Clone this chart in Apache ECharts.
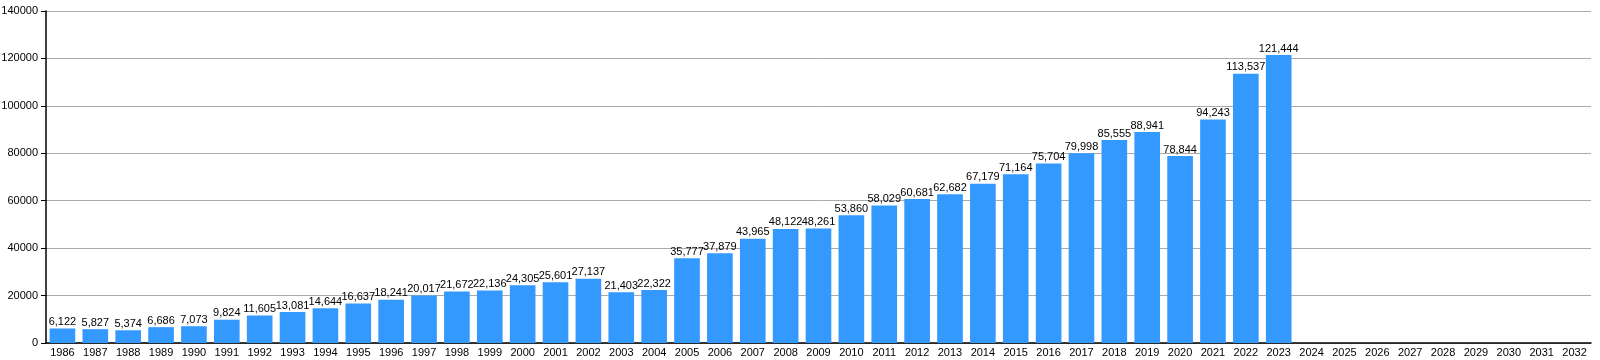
<!DOCTYPE html>
<html><head><meta charset="utf-8">
<script src="https://cdn.jsdelivr.net/npm/echarts@6/dist/echarts.min.js"></script>
<style>html,body{margin:0;padding:0;background:#fff}#c{width:1600px;height:360px}</style>
</head><body><div id="c"></div>
<script>
const years = ['1986','1987','1988','1989','1990','1991','1992','1993','1994','1995','1996','1997','1998','1999','2000','2001','2002','2003','2004','2005','2006','2007','2008','2009','2010','2011','2012','2013','2014','2015','2016','2017','2018','2019','2020','2021','2022','2023','2024','2025','2026','2027','2028','2029','2030','2031','2032'];
const values = [6122,5827,5374,6686,7073,9824,11605,13081,14644,16637,18241,20017,21672,22136,24305,25601,27137,21403,22322,35777,37879,43965,48122,48261,53860,58029,60681,62682,67179,71164,75704,79998,85555,88941,78844,94243,113537,121444,null,null,null,null,null,null,null,null,null];
const chart = echarts.init(document.getElementById('c'));
chart.setOption({
  animation:false,
  grid:{left:46,right:9,top:11,bottom:17,containLabel:false,outerBoundsMode:'none'},
  xAxis:{type:'category',data:years,
    axisLine:{lineStyle:{color:'#000',width:1.5}},
    axisTick:{show:false},
    axisLabel:{color:'#000',fontFamily:'Liberation Sans',fontSize:11,margin:4,interval:0}},
  yAxis:{type:'value',min:0,max:140000,interval:20000,
    axisLine:{show:true,lineStyle:{color:'#000',width:1.5}},
    axisTick:{show:true,length:5,lineStyle:{color:'#000'}},
    axisLabel:{color:'#000',fontFamily:'Liberation Sans',fontSize:11,margin:8,formatter:v=>String(v)},
    splitLine:{lineStyle:{color:'#aaaaaa',width:1}}},
  series:[{type:'bar',data:values,barWidth:'78%',
    itemStyle:{color:'#3399ff'},
    label:{show:true,position:'top',distance:1,color:'#000',fontFamily:'Liberation Sans',fontSize:11,
      formatter:p=>p.value==null?'':p.value.toLocaleString('en-US')}}]
});
</script></body></html>
